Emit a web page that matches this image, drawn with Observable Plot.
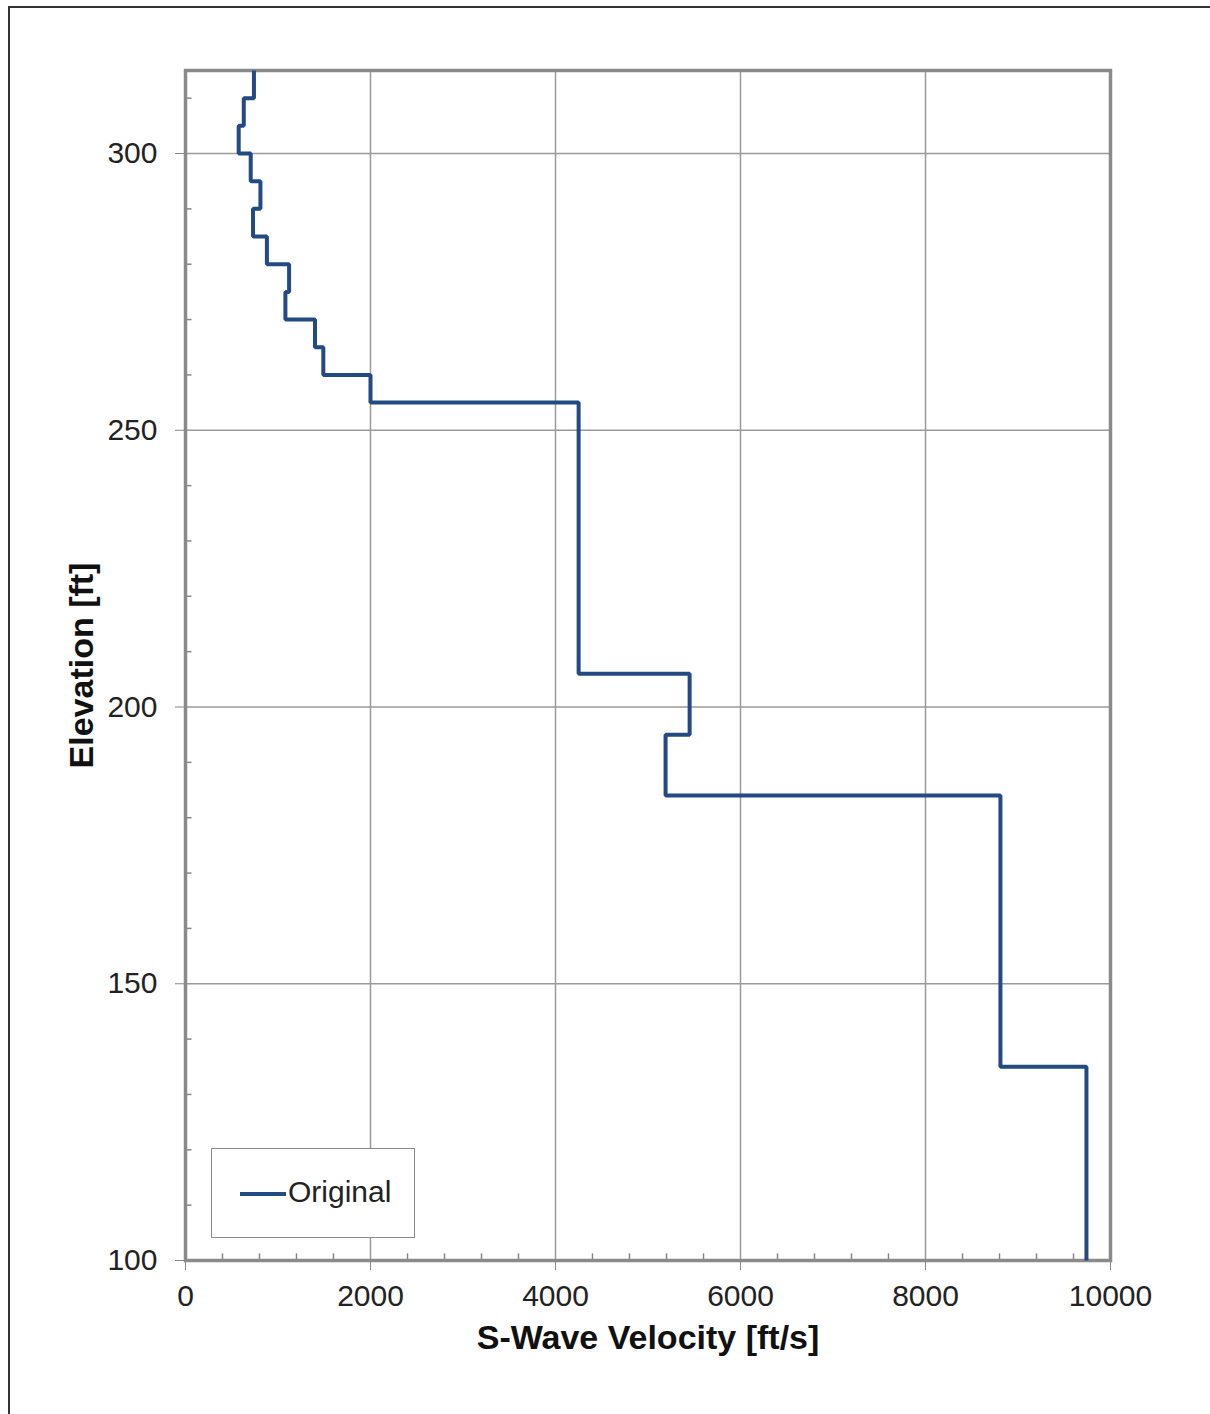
<!DOCTYPE html>
<html>
<head>
<meta charset="utf-8">
<script src="https://cdn.jsdelivr.net/npm/d3@7"></script>
<script src="https://cdn.jsdelivr.net/npm/@observablehq/plot@0.6"></script>
<style>
  html, body { margin: 0; padding: 0; background: #fff; }
  #wrap { position: relative; width: 1210px; height: 1414px; overflow: hidden; }
  #border { position: absolute; left: 8px; top: 6px; width: 1300px; height: 1500px;
            border-left: 2px solid #333; border-top: 2px solid #333; pointer-events: none; }
  #legend { position: absolute; left: 211px; top: 1148px; width: 204px; height: 90px;
            border: 1.5px solid #8a8a8a; background: #fff; box-sizing: border-box;
            font-family: "Liberation Sans", Arial, sans-serif; font-size: 30px; color: #222; }
  #legend .sw { position: absolute; left: 28px; top: 43px; width: 46px; height: 4px; background: #234a82; }
  #legend .lb { position: absolute; left: 76px; top: 26px; }
  svg [aria-label="x-axis label"] text, svg [aria-label="y-axis label"] text { font-weight: bold; font-size: 34px; fill: #111; }
</style>
</head>
<body>
<div id="wrap">
  <div id="chart"></div>
  <div id="border"></div>
  <div id="legend"><div class="sw"></div><div class="lb">Original</div></div>
</div>
<script>
// Layer profile: top elevation, bottom elevation [ft], S-wave velocity [ft/s]
const layerTop    = [315, 310, 305, 300, 295, 290, 285, 280, 275, 270, 265, 260, 255, 206, 195, 184, 135];
const layerBottom = [310, 305, 300, 295, 290, 285, 280, 275, 270, 265, 260, 255, 206, 195, 184, 135, 100];
const velocity    = [740, 630, 575, 705, 810, 730, 880, 1120, 1080, 1400, 1490, 2000, 4250, 5450, 5190, 8810, 9740];

const xTicks = [0, 2000, 4000, 6000, 8000, 10000];
const yTicks = [100, 150, 200, 250, 300];
const xMinor = d3.range(400, 10000, 400).filter(v => v % 2000 !== 0);
const yMinor = d3.range(110, 315, 10).filter(v => v % 50 !== 0);

const profile = [];
layerTop.forEach((t, i) => {
  profile.push({v: velocity[i], z: t});
  profile.push({v: velocity[i], z: layerBottom[i]});
});

const chart = Plot.plot({
  width: 1210,
  height: 1414,
  marginLeft: 185,
  marginRight: 100,
  marginTop: 70,
  marginBottom: 154,
  style: { fontFamily: "Liberation Sans, Arial, sans-serif", fontSize: "30px", color: "#222", background: "white" },
  x: { domain: [0, 10000] },
  y: { domain: [100, 315] },
  marks: [
    Plot.gridX(xTicks, { stroke: "#9a9a9a", strokeOpacity: 1, strokeWidth: 1.5 }),
    Plot.gridY(yTicks, { stroke: "#9a9a9a", strokeOpacity: 1, strokeWidth: 1.5 }),
    Plot.ruleX(xMinor, { x: d => d, y1: 100, y2: 101.2, stroke: "#888", strokeWidth: 1.5 }),
    Plot.ruleY(yMinor, { y: d => d, x1: 0, x2: 70, stroke: "#888", strokeWidth: 1.5 }),
    Plot.frame({ stroke: "#8a8a8a", strokeWidth: 3.5 }),
    Plot.axisX({ ticks: xTicks, tickSize: 10, tickPadding: 14, stroke: "#888", tickFormat: d => String(d),
                 label: "S-Wave Velocity [ft/s]", labelAnchor: "center", labelArrow: "none", labelOffset: 88 }),
    Plot.axisY({ ticks: yTicks, tickSize: 10, tickPadding: 18, stroke: "#888", tickFormat: d => String(d),
                 label: "Elevation [ft]", labelAnchor: "center", labelArrow: "none", labelOffset: 117 }),
    Plot.line(profile, { x: "v", y: "z", stroke: "#234a82", strokeWidth: 4, strokeLinejoin: "miter", strokeLinecap: "butt" })
  ]
});
document.getElementById("chart").appendChild(chart);
</script>
</body>
</html>
